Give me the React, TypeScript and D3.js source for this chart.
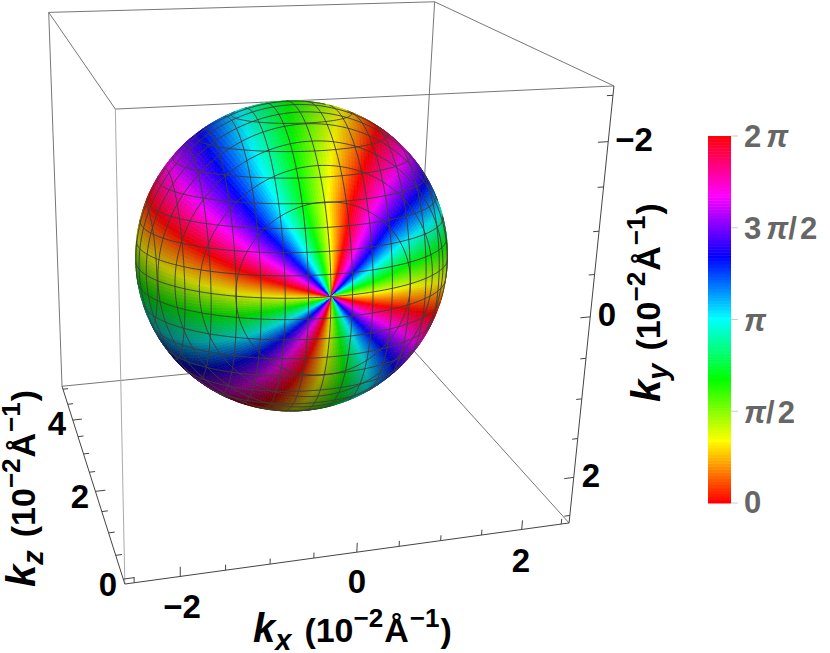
import React from "react";
import * as d3 from "d3";

// ---- data
const boxX = [-2.6, 2.6];
const boxY = [-2.6, 2.6];
const boxZ = [-0.1, 5.1];
const xMajor = [-2, 0, 2];
const yMajor = [-2, 0, 2];
const zMajor = [0, 2, 4];
const xMinor = [-2.5, -1.5, -1, -0.5, 0.5, 1, 1.5, 2.5];
const yMinor = [-2.5, -1.5, -1, -0.5, 0.5, 1, 1.5, 2.5];
const zMinor = [0.5, 1, 1.5, 2.5, 3, 3.5, 4.5, 5];
const meshX = [-1.75, -1.5, -1.25, -1, -0.75, -0.5, -0.25, 0, 0.25, 0.5, 0.75, 1, 1.25, 1.5, 1.75];
const meshY = [-1.75, -1.5, -1.25, -1, -0.75, -0.5, -0.25, 0, 0.25, 0.5, 0.75, 1, 1.25, 1.5, 1.75];
const meshDepth = [0.29, 0.58, 0.87, 1.16, 1.45, 1.74, 2.03, 2.32, 2.61, 2.9, 3.19, 3.48];
const sphereCenter = [-0.05, 0.02, 2.62];
const sphereRadius = 1.89;
const tiltXDeg = -5.6;
const tiltYDeg = 2.6;
const winding = 4;
const phaseOriginDeg = 17;
const polarDeg = [0, 30, 60, 90, 120, 180];
const twistDeg = [0, 0, 16, 30, 40, 40];
const sectorDeg = [-180, -135, -100, -70, -40, -10, 20, 110, 180];
const sectorGain = [1, 1, 1.3, 2.3, 2.1, 1.2, 1, 1, 1];
const barTicks = [0, 0.25, 0.5, 0.75, 1];

// screen position of the eight box corners, used to fit the camera
const cornerWorld: number[][] = [
  [boxX[0], boxY[1], boxZ[0]], [boxX[1], boxY[1], boxZ[0]], [boxX[1], boxY[0], boxZ[0]], [boxX[0], boxY[0], boxZ[0]],
  [boxX[0], boxY[1], boxZ[1]], [boxX[1], boxY[1], boxZ[1]], [boxX[1], boxY[0], boxZ[1]], [boxX[0], boxY[0], boxZ[1]],
];
const cornerScreen: number[][] = [
  [126, 585], [570, 523], [612, 85], [115, 109],
  [62, 385], [413, 352], [437, 2], [48, 13],
];

function solve(A: number[][], b: number[]): number[] {
  const n = b.length;
  const M = A.map((r, i) => [...r, b[i]]);
  for (let i = 0; i < n; i++) {
    let p = i;
    for (let k = i + 1; k < n; k++) if (Math.abs(M[k][i]) > Math.abs(M[p][i])) p = k;
    [M[i], M[p]] = [M[p], M[i]];
    for (let k = 0; k < n; k++) {
      if (k === i) continue;
      const f = M[k][i] / M[i][i];
      for (let j = i; j <= n; j++) M[k][j] -= f * M[i][j];
    }
  }
  return M.map((r, i) => r[n] / r[i]);
}

function fitCamera(): number[] {
  const rows: number[][] = [];
  const rhs: number[] = [];
  cornerWorld.forEach(([X, Y, Z], i) => {
    const [u, v] = cornerScreen[i];
    rows.push([X, Y, Z, 1, 0, 0, 0, 0, -u * X, -u * Y, -u * Z]);
    rhs.push(u);
    rows.push([0, 0, 0, 0, X, Y, Z, 1, -v * X, -v * Y, -v * Z]);
    rhs.push(v);
  });
  const ATA = d3.range(11).map((i) => d3.range(11).map((j) => d3.sum(rows, (r) => r[i] * r[j])));
  const ATb = d3.range(11).map((i) => d3.sum(rows, (r, k) => r[i] * rhs[k]));
  return solve(ATA, ATb);
}
const P = fitCamera();
const project = ([x, y, z]: number[]): [number, number] => {
  const w = P[8] * x + P[9] * y + P[10] * z + 1;
  return [(P[0] * x + P[1] * y + P[2] * z + P[3]) / w, (P[4] * x + P[5] * y + P[6] * z + P[7]) / w];
};
const camera = solve(
  [
    [P[0], P[1], P[2]],
    [P[4], P[5], P[6]],
    [P[8], P[9], P[10]],
  ],
  [-P[3], -P[7], -1]
);

const rad = Math.PI / 180;
const [cx, sx, cy, sy] = [Math.cos(tiltXDeg * rad), Math.sin(tiltXDeg * rad), Math.cos(tiltYDeg * rad), Math.sin(tiltYDeg * rad)];
// local sphere frame (pole on local -z) to world
const toWorld = ([x, y, z]: number[]) => {
  const x1 = cy * x + sy * z;
  const z1 = -sy * x + cy * z;
  const y2 = cx * y - sx * z1;
  const z2 = sx * y + cx * z1;
  return [sphereCenter[0] + x1, sphereCenter[1] + y2, sphereCenter[2] + z2];
};
const facing = (p: number[]) => {
  const n = [p[0] - sphereCenter[0], p[1] - sphereCenter[1], p[2] - sphereCenter[2]];
  return n[0] * (camera[0] - p[0]) + n[1] * (camera[1] - p[1]) + n[2] * (camera[2] - p[2]) > 0;
};
const spherePoint = (t: number, f: number) =>
  toWorld([
    sphereRadius * Math.sin(t) * Math.cos(f),
    sphereRadius * Math.sin(t) * Math.sin(f),
    -sphereRadius * Math.cos(t),
  ]);

const twist = d3.scaleLinear().domain(polarDeg).range(twistDeg);
const sector = d3.scaleLinear().domain(sectorDeg).range(sectorGain);
const line = d3.line();

function buildPatches() {
  const out: { d: string; c: string }[] = [];
  const dT = 2, dF = 1.5;
  for (let td = 0; td < 180; td += dT) {
    for (let fd = 0; fd < 360; fd += dF) {
      const mid = spherePoint((td + dT / 2) * rad, (fd + dF / 2) * rad);
      if (!facing(mid)) continue;
      const pts = [
        spherePoint(td * rad, fd * rad),
        spherePoint((td + dT) * rad, fd * rad),
        spherePoint((td + dT) * rad, (fd + dF) * rad),
        spherePoint(td * rad, (fd + dF) * rad),
      ].map(project);
      const fMid = fd + dF / 2;
      const signed = fMid > 180 ? fMid - 360 : fMid;
      const hue = -winding * (fMid - phaseOriginDeg) + twist(td + dT / 2) * sector(signed);
      const m = project(mid);
      const nx = (m[0] - 292) / 155;
      const ny = (m[1] - 251) / 155;
      const rho2 = nx * nx + ny * ny;
      const L = 0.9 * ny - 0.45 * nx;
      const s = Math.max(0.3, 1 - 0.45 * Math.max(0, L - 0.1) - 0.2 * rho2 * rho2);
      const base = d3.rgb(d3.hsl(((hue % 360) + 360) % 360, 1, 0.5));
      const col = d3.rgb(base.r * s, base.g * s, base.b * s).formatHex();
      out.push({ d: line(pts as [number, number][]) + "Z", c: col });
    }
  }
  return out;
}

function meshCurves() {
  const out: string[] = [];
  const R = sphereRadius;
  const add = (fn: (a: number) => number[]) => {
    let run: [number, number][] = [];
    for (let a = 0; a <= 360; a += 2) {
      const p = toWorld(fn(a * rad));
      if (facing(p)) run.push(project(p));
      else {
        if (run.length > 1) out.push(line(run)!);
        run = [];
      }
    }
    if (run.length > 1) out.push(line(run)!);
  };
  meshX.forEach((c) => {
    const r = Math.sqrt(R * R - c * c);
    add((a) => [c, r * Math.cos(a), r * Math.sin(a)]);
  });
  meshY.forEach((c) => {
    const r = Math.sqrt(R * R - c * c);
    add((a) => [r * Math.cos(a), c, r * Math.sin(a)]);
  });
  meshDepth.forEach((h) => {
    const d = h - R;
    const r = Math.sqrt(Math.max(0, R * R - d * d));
    add((a) => [r * Math.cos(a), r * Math.sin(a), d]);
  });
  return out;
}

const Seg = ({ a, b, c, w = 1 }: { a: number[]; b: number[]; c: string; w?: number }) => {
  const [p, q] = [project(a), project(b)];
  return <line x1={p[0]} y1={p[1]} x2={q[0]} y2={q[1]} stroke={c} strokeWidth={w} />;
};

const FONT = "'Liberation Sans', Arial, sans-serif";

const AxisTitle = ({ letter, sub, transform }: { letter: string; sub: string; transform: string }) => (
  <text transform={transform} fontFamily={FONT} fontWeight="bold" fontSize={34} fill="#000">
    <tspan fontStyle="italic" fontSize={40}>{letter}</tspan>
    <tspan fontStyle="italic" fontSize={29} dy={8}>{sub}</tspan>
    <tspan dy={-8} dx={13}>(10</tspan>
    <tspan fontSize={26} dy={-15}>−2</tspan>
    <tspan dy={15} dx={1}>Å</tspan>
    <tspan fontSize={26} dy={-15} dx={1}>−1</tspan>
    <tspan dy={15} dx={1}>)</tspan>
  </text>
);

const BarLabel = ({ y, parts }: { y: number; parts: [string, boolean, number][] }) => (
  <text x={744} y={y} fontFamily={FONT} fontWeight="bold" fontSize={31} fill="#666">
    {parts.map(([t, it, dx], i) => (
      <tspan key={i} fontStyle={it ? "italic" : "normal"} dx={dx}>{t}</tspan>
    ))}
  </text>
);

export default function App() {
  const patches = React.useMemo(buildPatches, []);
  const curves = React.useMemo(meshCurves, []);
  const [x0, x1] = boxX, [y0, y1] = boxY, [z0, z1] = boxZ;
  const barY = d3.scaleLinear().domain([0, 1]).range([503, 136]);
  const barSteps = d3.range(0, 1, 1 / 120);
  const grey = "#777";
  const dark = "#444";
  return (
    <svg width={830} height={653} style={{ position: "absolute", left: 0, top: 0, background: "#fff" }}>
      {/* box edges behind the sphere */}
      <g>
        <Seg a={[x0, y0, z1]} b={[x1, y0, z1]} c={grey} />
        <Seg a={[x1, y0, z1]} b={[x1, y1, z1]} c={grey} />
        <Seg a={[x0, y1, z1]} b={[x1, y1, z1]} c={grey} />
        <Seg a={[x0, y0, z1]} b={[x0, y1, z1]} c={grey} />
        <Seg a={[x0, y0, z0]} b={[x0, y0, z1]} c={grey} />
        <Seg a={[x1, y0, z0]} b={[x1, y0, z1]} c={grey} />
        <Seg a={[x1, y1, z0]} b={[x1, y1, z1]} c={grey} />
        <Seg a={[x0, y0, z0]} b={[x1, y0, z0]} c={grey} />
        <Seg a={[x0, y0, z0]} b={[x0, y1, z0]} c="#aaa" />
        {/* axes */}
        <Seg a={[x0, y1, z0]} b={[x1, y1, z0]} c={dark} />
        <Seg a={[x1, y1, z0]} b={[x1, y0, z0]} c={dark} />
        <Seg a={[x0, y1, z0]} b={[x0, y1, z1]} c={dark} />
        {xMajor.map((v) => <Seg key={v} a={[v, y1, z0]} b={[v, y1 - 0.12, z0]} c={dark} />)}
        {xMinor.map((v) => <Seg key={v} a={[v, y1, z0]} b={[v, y1 - 0.07, z0]} c={dark} />)}
        {yMajor.map((v) => <Seg key={v} a={[x1, v, z0]} b={[x1 - 0.12, v, z0]} c={dark} />)}
        {yMinor.map((v) => <Seg key={v} a={[x1, v, z0]} b={[x1 - 0.07, v, z0]} c={dark} />)}
        {zMajor.map((v) => <Seg key={v} a={[x0, y1, v]} b={[x0 + 0.12, y1, v]} c={dark} />)}
        {zMinor.map((v) => <Seg key={v} a={[x0, y1, v]} b={[x0 + 0.07, y1, v]} c={dark} />)}
      </g>
      {/* sphere */}
      <g>
        {patches.map((p, i) => <path key={i} d={p.d} fill={p.c} stroke={p.c} strokeWidth={0.7} />)}
      </g>
      <g fill="none" stroke="#3c3c3c" strokeOpacity={0.9} strokeWidth={1}>
        {curves.map((d, i) => <path key={i} d={d} />)}
      </g>
      {/* tick labels */}
      <g fontFamily={FONT} fontWeight="bold" fontSize={33} fill="#000" textAnchor="middle">
        <text x={182} y={618}>−2</text>
        <text x={357} y={593}>0</text>
        <text x={521} y={572}>2</text>
        <text x={57} y={435}>4</text>
        <text x={80} y={508}>2</text>
        <text x={108} y={596}>0</text>
        <text x={634} y={151}>−2</text>
        <text x={607} y={326}>0</text>
        <text x={591} y={487}>2</text>
      </g>
      <AxisTitle letter="k" sub="x" transform="translate(253,642)" />
      <AxisTitle letter="k" sub="z" transform="translate(35,587) rotate(-90)" />
      <AxisTitle letter="k" sub="y" transform="translate(660,402) rotate(-90)" />
      {/* colour bar */}
      <g>
        {barSteps.map((v) => (
          <rect key={v} x={708} width={23} y={barY(v + 1 / 120)} height={barY(v) - barY(v + 1 / 120) + 0.5}
            fill={d3.hsl(v * 360, 1, 0.5).formatHex()} />
        ))}
        {barTicks.map((v) => (
          <line key={v} x1={731} x2={738} y1={barY(v)} y2={barY(v)} stroke="#ccc" strokeWidth={1} />
        ))}
        <BarLabel y={147} parts={[["2", false, 0], ["π", true, 5]]} />
        <BarLabel y={239} parts={[["3", false, 0], ["π", true, 5], ["/", false, 0], ["2", false, 3]]} />
        <BarLabel y={331} parts={[["π", true, 0]]} />
        <BarLabel y={423} parts={[["π", true, 0], ["/", false, 0], ["2", false, 3]]} />
        <BarLabel y={513} parts={[["0", false, 0]]} />
      </g>
    </svg>
  );
}
